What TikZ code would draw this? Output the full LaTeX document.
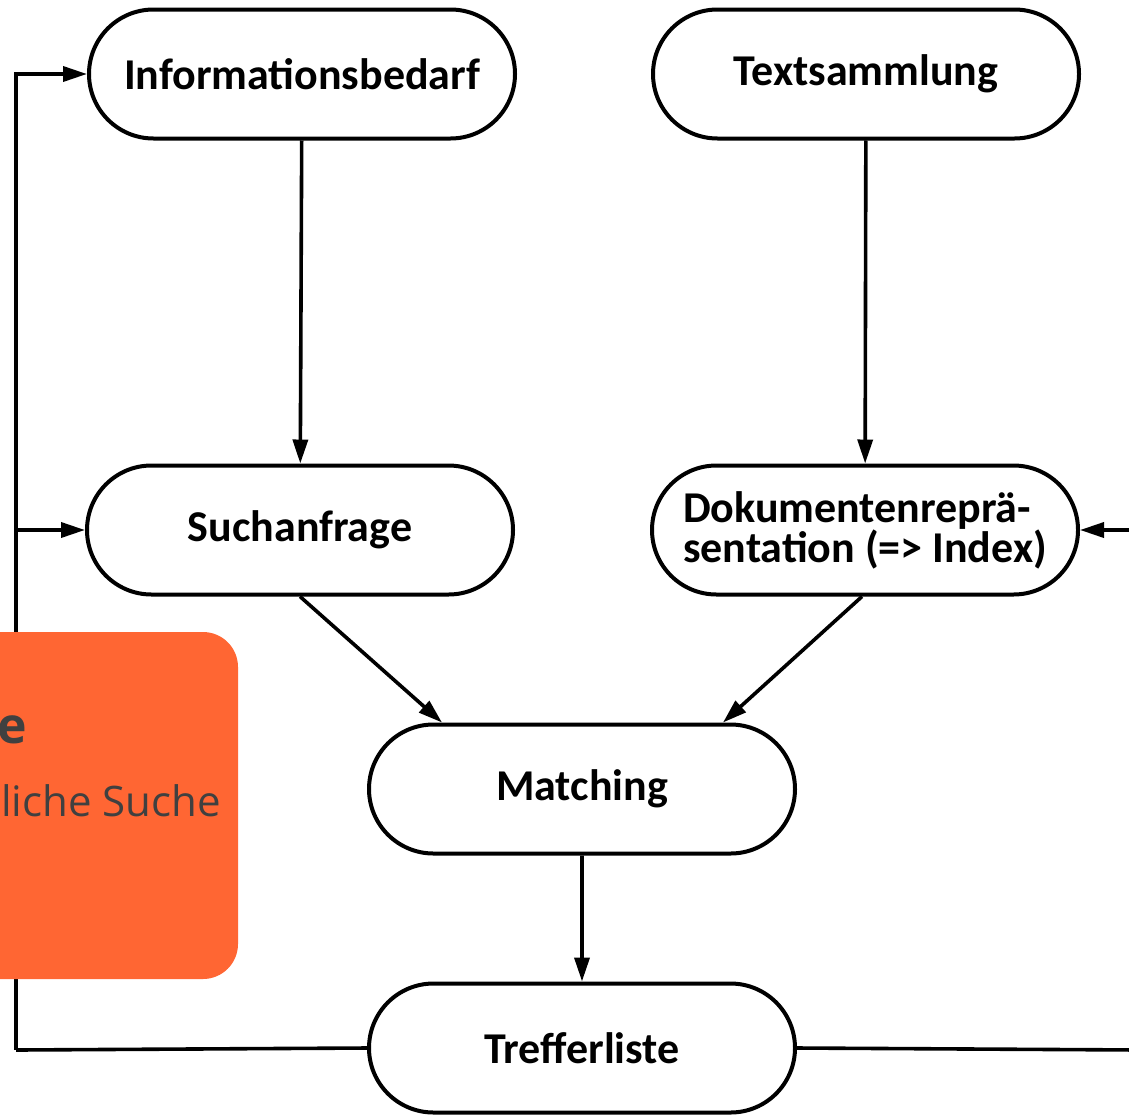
\documentclass[tikz,border=0pt]{standalone}
\usepackage{fontspec}
\setmainfont{Carlito}
\newfontfamily\boxfont{Open Sans}
\usetikzlibrary{calc, shapes.misc, arrows.meta, positioning}
\definecolor{boxorange}{RGB}{255,102,51}
\definecolor{boxtext}{RGB}{64,64,64}

\begin{document}
\begin{tikzpicture}[x=1pt, y=-1pt,
  stage/.style={draw, line width=4pt, rounded rectangle, fill=white,
    minimum width=426pt, minimum height=129pt, inner sep=0pt,
    font=\fontsize{44}{40}\selectfont\bfseries, align=left},
  flow/.style={line width=3.6pt, -{Triangle[length=24pt, width=15pt]}},
  edge/.style={line width=3.6pt}]
\clip (0,0) rectangle (1129,1114);
\fill[white] (0,0) rectangle (1129,1114);
\node[stage] (info) at (302,74) {Informationsbedarf};
\node[stage] (text) at (866,74) {Textsammlung};
\node[stage] (such) at (300,530) {Suchanfrage};
\node[stage] (dok) at (865,530) {Dokumentenreprä-\\sentation (=> Index)};
\node[stage] (match) at (582,789) {Matching};
\node[stage] (treffer) at (582,1048) {Trefferliste};
\coordinate (loopL) at (16,1050);
\coordinate (loopR) at (1140,1050);
\draw[flow] (info) -- (such);
\draw[flow] (text) -- (dok);
\draw[flow] (such.south) -- ($(match.north)+(-140,0)$);
\draw[flow] ($(dok.south)+(-3,0)$) -- ($(match.north)+(141,0)$);
\draw[flow] (match) -- (treffer);
% feedback loops
\draw[edge] (treffer.west) -- (loopL);
\draw[flow] (loopL) |- (info.west);
\draw[flow] (loopL |- such.west) -- (such.west);
\draw[edge] (treffer.east) -- (loopR);
\draw[flow] (loopR |- dok.east) -- (dok.east);
% overlay box
\fill[boxorange, rounded corners=35pt] (-60,632) rectangle (238,979);
\node[anchor=base east, font=\boxfont\fontsize{50}{50}\selectfont\bfseries,
  text=boxtext, inner sep=0pt] (boxtitle) at (27,743) {e};
\node[anchor=base west, font=\boxfont\fontsize{42}{42}\selectfont,
  text=boxtext, inner sep=0pt] (boxline) at (1,816) {liche Suche};
\end{tikzpicture}
\end{document}
